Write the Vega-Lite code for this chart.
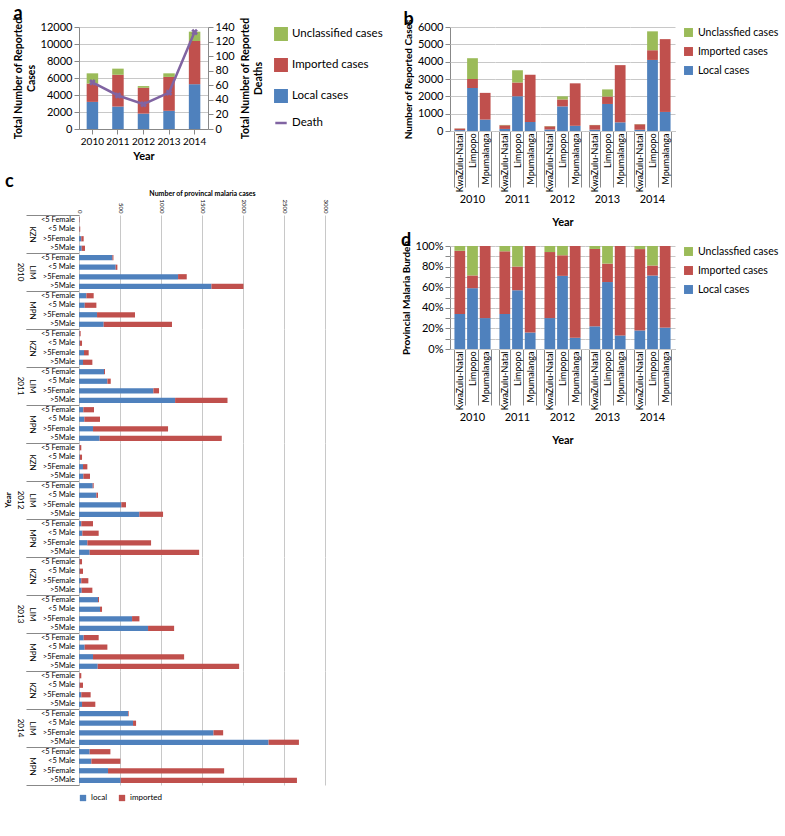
{
  "$schema": "https://vega.github.io/schema/vega-lite/v6.json",
  "config": {
    "font": "Lato",
    "view": {"stroke": null},
    "axis": {"labelColor": "#000", "titleColor": "#000", "labelFontSize": 11, "titleFontSize": 11, "titleFontWeight": "bold", "gridColor": "#c8c8c8", "domainColor": "#888", "tickColor": "#888", "labelFont": "Lato", "titleFont": "Lato"},
    "legend": {"labelFontSize": 11, "labelColor": "#000", "labelFont": "Lato"},
    "header": {"labelColor": "#000", "titleColor": "#000", "labelFont": "Lato", "titleFont": "Lato"},
    "title": {"fontSize": 18, "fontWeight": "bold", "anchor": "start", "frame": "bounds", "color": "#000", "font": "Lato"}
  },
  "datasets": {
    "tot": [
      {"year": "2010", "type": "Local cases", "cases": 3190},
      {"year": "2010", "type": "Imported cases", "cases": 2150},
      {"year": "2010", "type": "Unclassified cases", "cases": 1210},
      {"year": "2011", "type": "Local cases", "cases": 2640},
      {"year": "2011", "type": "Imported cases", "cases": 3740},
      {"year": "2011", "type": "Unclassified cases", "cases": 720},
      {"year": "2012", "type": "Local cases", "cases": 1810},
      {"year": "2012", "type": "Imported cases", "cases": 3040},
      {"year": "2012", "type": "Unclassified cases", "cases": 200},
      {"year": "2013", "type": "Local cases", "cases": 2140},
      {"year": "2013", "type": "Imported cases", "cases": 3990},
      {"year": "2013", "type": "Unclassified cases", "cases": 420},
      {"year": "2014", "type": "Local cases", "cases": 5270},
      {"year": "2014", "type": "Imported cases", "cases": 5080},
      {"year": "2014", "type": "Unclassified cases", "cases": 1100}
    ],
    "deaths": [
      {"year": "2010", "deaths": 64},
      {"year": "2011", "deaths": 46},
      {"year": "2012", "deaths": 34},
      {"year": "2013", "deaths": 50},
      {"year": "2014", "deaths": 133}
    ],
    "prov": [
      {"year": "2010", "province": "KwaZulu-Natal", "type": "Local cases", "cases": 51},
      {"year": "2010", "province": "KwaZulu-Natal", "type": "Imported cases", "cases": 92},
      {"year": "2010", "province": "KwaZulu-Natal", "type": "Unclassfied cases", "cases": 7},
      {"year": "2010", "province": "Limpopo", "type": "Local cases", "cases": 2480},
      {"year": "2010", "province": "Limpopo", "type": "Imported cases", "cases": 520},
      {"year": "2010", "province": "Limpopo", "type": "Unclassfied cases", "cases": 1200},
      {"year": "2010", "province": "Mpumalanga", "type": "Local cases", "cases": 660},
      {"year": "2010", "province": "Mpumalanga", "type": "Imported cases", "cases": 1540},
      {"year": "2010", "province": "Mpumalanga", "type": "Unclassfied cases", "cases": 0},
      {"year": "2011", "province": "KwaZulu-Natal", "type": "Local cases", "cases": 119},
      {"year": "2011", "province": "KwaZulu-Natal", "type": "Imported cases", "cases": 213},
      {"year": "2011", "province": "KwaZulu-Natal", "type": "Unclassfied cases", "cases": 18},
      {"year": "2011", "province": "Limpopo", "type": "Local cases", "cases": 2000},
      {"year": "2011", "province": "Limpopo", "type": "Imported cases", "cases": 800},
      {"year": "2011", "province": "Limpopo", "type": "Unclassfied cases", "cases": 700},
      {"year": "2011", "province": "Mpumalanga", "type": "Local cases", "cases": 520},
      {"year": "2011", "province": "Mpumalanga", "type": "Imported cases", "cases": 2730},
      {"year": "2011", "province": "Mpumalanga", "type": "Unclassfied cases", "cases": 0},
      {"year": "2012", "province": "KwaZulu-Natal", "type": "Local cases", "cases": 87},
      {"year": "2012", "province": "KwaZulu-Natal", "type": "Imported cases", "cases": 186},
      {"year": "2012", "province": "KwaZulu-Natal", "type": "Unclassfied cases", "cases": 17},
      {"year": "2012", "province": "Limpopo", "type": "Local cases", "cases": 1420},
      {"year": "2012", "province": "Limpopo", "type": "Imported cases", "cases": 400},
      {"year": "2012", "province": "Limpopo", "type": "Unclassfied cases", "cases": 180},
      {"year": "2012", "province": "Mpumalanga", "type": "Local cases", "cases": 300},
      {"year": "2012", "province": "Mpumalanga", "type": "Imported cases", "cases": 2450},
      {"year": "2012", "province": "Mpumalanga", "type": "Unclassfied cases", "cases": 0},
      {"year": "2013", "province": "KwaZulu-Natal", "type": "Local cases", "cases": 77},
      {"year": "2013", "province": "KwaZulu-Natal", "type": "Imported cases", "cases": 263},
      {"year": "2013", "province": "KwaZulu-Natal", "type": "Unclassfied cases", "cases": 10},
      {"year": "2013", "province": "Limpopo", "type": "Local cases", "cases": 1560},
      {"year": "2013", "province": "Limpopo", "type": "Imported cases", "cases": 430},
      {"year": "2013", "province": "Limpopo", "type": "Unclassfied cases", "cases": 410},
      {"year": "2013", "province": "Mpumalanga", "type": "Local cases", "cases": 500},
      {"year": "2013", "province": "Mpumalanga", "type": "Imported cases", "cases": 3300},
      {"year": "2013", "province": "Mpumalanga", "type": "Unclassfied cases", "cases": 0},
      {"year": "2014", "province": "KwaZulu-Natal", "type": "Local cases", "cases": 72},
      {"year": "2014", "province": "KwaZulu-Natal", "type": "Imported cases", "cases": 316},
      {"year": "2014", "province": "KwaZulu-Natal", "type": "Unclassfied cases", "cases": 12},
      {"year": "2014", "province": "Limpopo", "type": "Local cases", "cases": 4100},
      {"year": "2014", "province": "Limpopo", "type": "Imported cases", "cases": 560},
      {"year": "2014", "province": "Limpopo", "type": "Unclassfied cases", "cases": 1090},
      {"year": "2014", "province": "Mpumalanga", "type": "Local cases", "cases": 1100},
      {"year": "2014", "province": "Mpumalanga", "type": "Imported cases", "cases": 4200},
      {"year": "2014", "province": "Mpumalanga", "type": "Unclassfied cases", "cases": 0}
    ],
    "sex": [
      {"year": "2010", "p": "KZN", "g": "<5 Female", "local": 3, "imported": 5},
      {"year": "2010", "p": "KZN", "g": "<5 Male", "local": 5, "imported": 10},
      {"year": "2010", "p": "KZN", "g": ">5Female", "local": 28, "imported": 29},
      {"year": "2010", "p": "KZN", "g": ">5Male", "local": 33, "imported": 40},
      {"year": "2010", "p": "LIM", "g": "<5 Female", "local": 407, "imported": 13},
      {"year": "2010", "p": "LIM", "g": "<5 Male", "local": 447, "imported": 21},
      {"year": "2010", "p": "LIM", "g": ">5Female", "local": 1208, "imported": 106},
      {"year": "2010", "p": "LIM", "g": ">5Male", "local": 1615, "imported": 391},
      {"year": "2010", "p": "MPN", "g": "<5 Female", "local": 90, "imported": 89},
      {"year": "2010", "p": "MPN", "g": "<5 Male", "local": 70, "imported": 142},
      {"year": "2010", "p": "MPN", "g": ">5Female", "local": 220, "imported": 463},
      {"year": "2010", "p": "MPN", "g": ">5Male", "local": 301, "imported": 833},
      {"year": "2011", "p": "KZN", "g": "<5 Female", "local": 8, "imported": 12},
      {"year": "2011", "p": "KZN", "g": "<5 Male", "local": 10, "imported": 27},
      {"year": "2011", "p": "KZN", "g": ">5Female", "local": 61, "imported": 57},
      {"year": "2011", "p": "KZN", "g": ">5Male", "local": 49, "imported": 114},
      {"year": "2011", "p": "LIM", "g": "<5 Female", "local": 305, "imported": 12},
      {"year": "2011", "p": "LIM", "g": "<5 Male", "local": 346, "imported": 41},
      {"year": "2011", "p": "LIM", "g": ">5Female", "local": 907, "imported": 69},
      {"year": "2011", "p": "LIM", "g": ">5Male", "local": 1172, "imported": 639},
      {"year": "2011", "p": "MPN", "g": "<5 Female", "local": 53, "imported": 130},
      {"year": "2011", "p": "MPN", "g": "<5 Male", "local": 65, "imported": 191},
      {"year": "2011", "p": "MPN", "g": ">5Female", "local": 171, "imported": 915},
      {"year": "2011", "p": "MPN", "g": ">5Male", "local": 252, "imported": 1489},
      {"year": "2012", "p": "KZN", "g": "<5 Female", "local": 8, "imported": 20},
      {"year": "2012", "p": "KZN", "g": "<5 Male", "local": 10, "imported": 27},
      {"year": "2012", "p": "KZN", "g": ">5Female", "local": 49, "imported": 53},
      {"year": "2012", "p": "KZN", "g": ">5Male", "local": 53, "imported": 81},
      {"year": "2012", "p": "LIM", "g": "<5 Female", "local": 167, "imported": 12},
      {"year": "2012", "p": "LIM", "g": "<5 Male", "local": 212, "imported": 20},
      {"year": "2012", "p": "LIM", "g": ">5Female", "local": 516, "imported": 57},
      {"year": "2012", "p": "LIM", "g": ">5Male", "local": 736, "imported": 289},
      {"year": "2012", "p": "MPN", "g": "<5 Female", "local": 28, "imported": 143},
      {"year": "2012", "p": "MPN", "g": "<5 Male", "local": 41, "imported": 199},
      {"year": "2012", "p": "MPN", "g": ">5Female", "local": 102, "imported": 777},
      {"year": "2012", "p": "MPN", "g": ">5Male", "local": 130, "imported": 1335},
      {"year": "2013", "p": "KZN", "g": "<5 Female", "local": 8, "imported": 29},
      {"year": "2013", "p": "KZN", "g": "<5 Male", "local": 8, "imported": 41},
      {"year": "2013", "p": "KZN", "g": ">5Female", "local": 28, "imported": 86},
      {"year": "2013", "p": "KZN", "g": ">5Male", "local": 33, "imported": 130},
      {"year": "2013", "p": "LIM", "g": "<5 Female", "local": 232, "imported": 12},
      {"year": "2013", "p": "LIM", "g": "<5 Male", "local": 256, "imported": 25},
      {"year": "2013", "p": "LIM", "g": ">5Female", "local": 647, "imported": 90},
      {"year": "2013", "p": "LIM", "g": ">5Male", "local": 842, "imported": 318},
      {"year": "2013", "p": "MPN", "g": "<5 Female", "local": 57, "imported": 183},
      {"year": "2013", "p": "MPN", "g": "<5 Male", "local": 69, "imported": 277},
      {"year": "2013", "p": "MPN", "g": ">5Female", "local": 171, "imported": 1111},
      {"year": "2013", "p": "MPN", "g": ">5Male", "local": 228, "imported": 1725},
      {"year": "2014", "p": "KZN", "g": "<5 Female", "local": 5, "imported": 23},
      {"year": "2014", "p": "KZN", "g": "<5 Male", "local": 8, "imported": 41},
      {"year": "2014", "p": "KZN", "g": ">5Female", "local": 28, "imported": 114},
      {"year": "2014", "p": "KZN", "g": ">5Male", "local": 37, "imported": 162},
      {"year": "2014", "p": "LIM", "g": "<5 Female", "local": 598, "imported": 8},
      {"year": "2014", "p": "LIM", "g": "<5 Male", "local": 659, "imported": 37},
      {"year": "2014", "p": "LIM", "g": ">5Female", "local": 1640, "imported": 118},
      {"year": "2014", "p": "LIM", "g": ">5Male", "local": 2312, "imported": 370},
      {"year": "2014", "p": "MPN", "g": "<5 Female", "local": 130, "imported": 253},
      {"year": "2014", "p": "MPN", "g": "<5 Male", "local": 151, "imported": 354},
      {"year": "2014", "p": "MPN", "g": ">5Female", "local": 354, "imported": 1416},
      {"year": "2014", "p": "MPN", "g": ">5Male", "local": 509, "imported": 2149}
    ]
  },
  "spacing": 18,
  "resolve": {"scale": {"color": "independent"}, "legend": {"color": "independent"}},
  "hconcat": [
    {
      "spacing": 12,
      "resolve": {"scale": {"color": "independent"}, "legend": {"color": "independent"}},
      "vconcat": [
        {
          "title": {"text": "a", "anchor": "start", "frame": "bounds", "offset": -6},
          "width": 129,
          "height": 102,
          "resolve": {"scale": {"y": "independent"}},
          "layer": [
            {
              "data": {"name": "tot"},
              "transform": [{"calculate": "datum.type == 'Local cases' ? 0 : (datum.type == 'Imported cases' ? 1 : 2)", "as": "so"}],
              "mark": {"type": "bar"},
              "encoding": {
                "x": {"field": "year", "type": "ordinal", "title": "Year", "scale": {"paddingInner": 0.55, "paddingOuter": 0.3}, "axis": {"labelAngle": 0, "labelFontSize": 10}},
                "y": {"field": "cases", "type": "quantitative", "stack": "zero", "scale": {"domain": [0, 12000]}, "axis": {"values": [0, 2000, 4000, 6000, 8000, 10000, 12000], "format": "d", "title": ["Total Number of Reported", "Cases"], "titleFontSize": 10.5, "grid": true}},
                "color": {"field": "type", "type": "nominal", "scale": {"domain": ["Unclassified cases", "Imported cases", "Local cases", "Death"], "range": ["#9bbb59", "#c0504d", "#4f81bd", "#8064a2"]}, "legend": {"title": null, "symbolType": "square", "symbolSize": 130, "rowPadding": 9, "labelFontSize": 11.5, "offset": 10, "encode": {"symbols": {"update": {"shape": {"signal": "datum.value == 'Death' ? 'stroke' : 'square'"}, "stroke": {"signal": "datum.value == 'Death' ? '#8064a2' : null"}, "strokeWidth": {"value": 2.5}}}}}},
                "order": {"field": "so", "type": "quantitative"}
              }
            },
            {
              "data": {"name": "deaths"},
              "mark": {"type": "line", "strokeWidth": 2.5, "point": {"shape": "cross", "angle": 45, "size": 45, "filled": true, "color": "#8064a2"}},
              "encoding": {
                "x": {"field": "year", "type": "ordinal"},
                "y": {"field": "deaths", "type": "quantitative", "scale": {"domain": [0, 140]}, "axis": {"orient": "right", "values": [0, 20, 40, 60, 80, 100, 120, 140], "title": ["Total Number of Reported", "Deaths"], "titleFontSize": 10.5, "titleAngle": 270, "grid": false}},
                "color": {"datum": "Death"}
              }
            }
          ]
        },
        {
          "title": {"text": "c", "anchor": "start", "frame": "bounds", "offset": -2},
          "data": {"name": "sex"},
          "transform": [{"fold": ["local", "imported"], "as": ["key", "cases"]}],
          "facet": {"row": {"field": "year", "type": "ordinal", "title": "Year", "header": {"labelAngle": 90, "labelOrient": "left", "titleOrient": "left", "labelFontSize": 8, "titleFontSize": 8, "titleFontWeight": "bold", "labelPadding": -6, "titlePadding": -8}}},
          "spacing": 0,
          "bounds": "flush",
          "spec": {
            "width": 246,
            "height": 114,
            "layer": [
              {
                "mark": {"type": "bar"},
                "encoding": {
                  "x": {"field": "cases", "type": "quantitative", "stack": "zero", "scale": {"domain": [0, 3000]}, "axis": {"orient": "top", "values": [0, 500, 1000, 1500, 2000, 2500, 3000], "format": "d", "labelAngle": 90, "title": "Number of provincal malaria cases", "labelFontSize": 6, "titleFontSize": 7, "titlePadding": 3, "labelPadding": 2, "grid": true, "domain": false, "ticks": false}},
                  "y": {"field": "p", "type": "nominal", "title": null, "scale": {"domain": ["KZN", "LIM", "MPN"], "paddingInner": 0, "paddingOuter": 0}, "axis": {"labelAngle": 90, "labelPadding": -9, "tickBand": "extent", "tickSize": 53, "labelFontSize": 8}},
                  "yOffset": {"field": "g", "type": "nominal", "scale": {"domain": ["<5 Female", "<5 Male", ">5Female", ">5Male"], "paddingInner": 0.45, "paddingOuter": 0.22}},
                  "color": {"field": "key", "type": "nominal", "scale": {"domain": ["local", "imported"], "range": ["#4f81bd", "#c0504d"]}, "legend": {"orient": "bottom", "title": null, "direction": "horizontal", "labelFontSize": 8, "symbolType": "square", "symbolSize": 40, "offset": 8}},
                  "order": {"field": "key", "type": "nominal", "sort": "descending"}
                }
              },
              {
                "transform": [{"filter": "datum.key == 'local'"}],
                "mark": {"type": "text", "align": "right", "baseline": "middle", "dx": -4, "fontSize": 7.5},
                "encoding": {
                  "x": {"datum": 0},
                  "y": {"field": "p", "type": "nominal"},
                  "yOffset": {"field": "g", "type": "nominal"},
                  "text": {"field": "g"}
                }
              }
            ]
          }
        }
      ]
    },
    {
      "spacing": 4,
      "resolve": {"scale": {"color": "independent"}, "legend": {"color": "independent"}},
      "vconcat": [
        {
          "title": {"text": "b", "anchor": "start", "frame": "bounds", "offset": -10},
          "data": {"name": "prov"},
          "transform": [{"calculate": "datum.type == 'Local cases' ? 0 : (datum.type == 'Imported cases' ? 1 : 2)", "as": "so"}],
          "facet": {"column": {"field": "year", "type": "ordinal", "title": "Year", "header": {"labelOrient": "bottom", "titleOrient": "bottom", "labelFontSize": 11, "titleFontSize": 11, "titleFontWeight": "bold", "labelPadding": 2, "titlePadding": 2}}},
          "spacing": 0,
          "spec": {
            "width": 45,
            "height": 104,
            "mark": {"type": "bar"},
            "encoding": {
              "x": {"field": "province", "type": "nominal", "title": null, "scale": {"paddingInner": 0.15, "paddingOuter": 0.35}, "axis": {"labelAngle": -90, "tickBand": "extent", "tickSize": 56, "labelPadding": -54, "labelFontSize": 9}},
              "y": {"field": "cases", "type": "quantitative", "stack": "zero", "scale": {"domain": [0, 6000]}, "axis": {"values": [0, 1000, 2000, 3000, 4000, 5000, 6000], "format": "d", "title": "Number of Reported Cases", "titleFontSize": 10}},
              "color": {"field": "type", "type": "nominal", "scale": {"domain": ["Unclassfied cases", "Imported cases", "Local cases"], "range": ["#9bbb59", "#c0504d", "#4f81bd"]}, "legend": {"title": null, "symbolType": "square", "symbolSize": 80, "rowPadding": 8, "labelFontSize": 10.5, "offset": 8}},
              "order": {"field": "so", "type": "quantitative"}
            }
          }
        },
        {
          "title": {"text": "d", "anchor": "start", "frame": "bounds", "offset": -10},
          "data": {"name": "prov"},
          "transform": [{"calculate": "datum.type == 'Local cases' ? 0 : (datum.type == 'Imported cases' ? 1 : 2)", "as": "so"}],
          "facet": {"column": {"field": "year", "type": "ordinal", "title": "Year", "header": {"labelOrient": "bottom", "titleOrient": "bottom", "labelFontSize": 11, "titleFontSize": 11, "titleFontWeight": "bold", "labelPadding": 2, "titlePadding": 2}}},
          "spacing": 0,
          "spec": {
            "width": 45,
            "height": 103,
            "mark": {"type": "bar"},
            "encoding": {
              "x": {"field": "province", "type": "nominal", "title": null, "scale": {"paddingInner": 0.15, "paddingOuter": 0.35}, "axis": {"labelAngle": -90, "tickBand": "extent", "tickSize": 56, "labelPadding": -54, "labelFontSize": 9}},
              "y": {"field": "cases", "type": "quantitative", "stack": "normalize", "axis": {"values": [0, 0.1, 0.2, 0.3, 0.4, 0.5, 0.6, 0.7, 0.8, 0.9, 1], "format": ".0%", "title": "Provincial Malaria Burden", "titleFontSize": 10}},
              "color": {"field": "type", "type": "nominal", "scale": {"domain": ["Unclassfied cases", "Imported cases", "Local cases"], "range": ["#9bbb59", "#c0504d", "#4f81bd"]}, "legend": {"title": null, "symbolType": "square", "symbolSize": 80, "rowPadding": 8, "labelFontSize": 10.5, "offset": 8}},
              "order": {"field": "so", "type": "quantitative"}
            }
          }
        }
      ]
    }
  ]
}
